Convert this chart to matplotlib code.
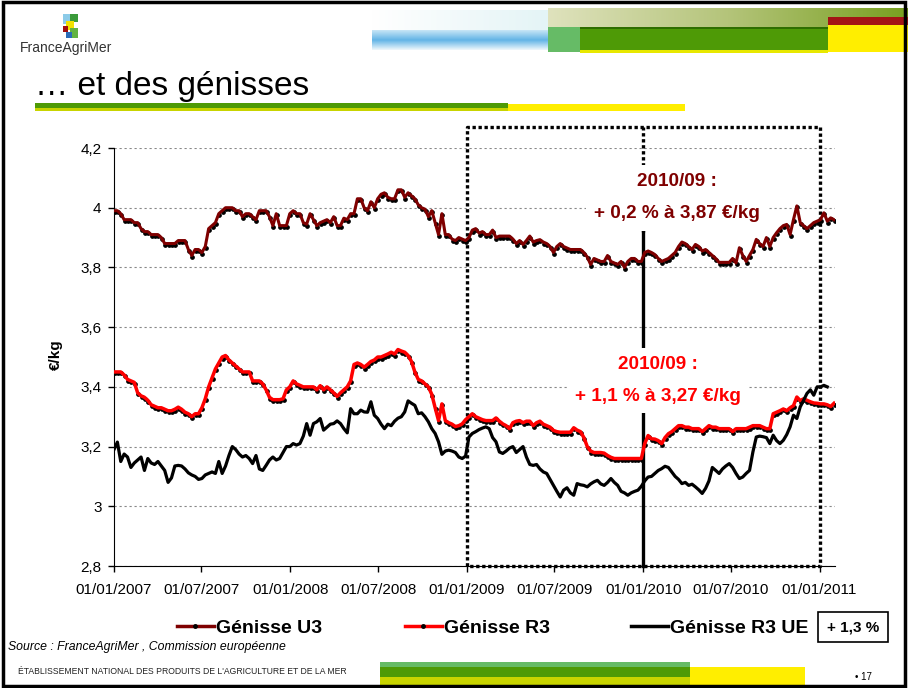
import matplotlib
matplotlib.use("Agg")
import matplotlib.pyplot as plt
import matplotlib.dates as mdates
import matplotlib.transforms as mtransforms
from matplotlib.patches import Rectangle
from matplotlib.lines import Line2D
from matplotlib.colors import LinearSegmentedColormap
from matplotlib.ticker import FuncFormatter
import numpy as np
import pandas as pd

plt.rcParams['font.family'] = ['Liberation Sans', 'DejaVu Sans']

# weekly prices, EUR/kg, starting 01/01/2007
genisse_u3 = [
    3.99, 3.99, 3.98, 3.96, 3.96, 3.96, 3.95, 3.95, 3.93, 3.92,
    3.92, 3.91, 3.91, 3.91, 3.90, 3.88, 3.88, 3.88, 3.88, 3.89,
    3.89, 3.89, 3.86, 3.84, 3.86, 3.86, 3.85, 3.87, 3.93, 3.94,
    3.95, 3.98, 3.99, 4.00, 4.00, 4.00, 3.99, 3.99, 3.97, 3.98,
    3.98, 3.97, 3.96, 3.99, 3.99, 3.99, 3.97, 3.94, 3.98, 3.94,
    3.94, 3.94, 3.98, 3.99, 3.98, 3.98, 3.95, 3.945, 3.98, 3.96,
    3.94, 3.95, 3.955, 3.96, 3.95, 3.97, 3.94, 3.94, 3.965, 3.96,
    3.98, 3.98, 4.03, 4.03, 4.00, 3.99, 4.02, 4.00, 4.03, 4.045,
    4.05, 4.035, 4.03, 4.03, 4.06, 4.06, 4.035, 4.05, 4.04, 4.03,
    4.01, 4.00, 3.995, 3.97, 3.99, 3.95, 3.91, 3.98, 3.91, 3.91,
    3.895, 3.89, 3.90, 3.895, 3.89, 3.90, 3.925, 3.93, 3.915, 3.92,
    3.91, 3.91, 3.925, 3.90, 3.905, 3.905, 3.905, 3.905, 3.895, 3.88,
    3.89, 3.877, 3.89, 3.905, 3.885, 3.89, 3.893, 3.885, 3.88, 3.87,
    3.85, 3.87, 3.88, 3.87, 3.865, 3.86, 3.86, 3.86, 3.86, 3.85,
    3.835, 3.81, 3.83, 3.825, 3.82, 3.82, 3.84, 3.82, 3.815, 3.81,
    3.82, 3.80, 3.82, 3.83, 3.83, 3.82, 3.82, 3.85, 3.855, 3.85,
    3.843, 3.83, 3.82, 3.825, 3.83, 3.84, 3.85, 3.87, 3.885, 3.88,
    3.87, 3.86, 3.877, 3.87, 3.855, 3.86, 3.85, 3.84, 3.83, 3.817,
    3.817, 3.817, 3.817, 3.83, 3.815, 3.866, 3.84, 3.82, 3.84, 3.86,
    3.894, 3.88, 3.87, 3.90, 3.87, 3.90, 3.916, 3.93, 3.94, 3.944,
    3.91, 3.96, 4.006, 3.95, 3.94, 3.93, 3.94, 3.95, 3.955, 3.96,
    3.983, 3.955, 3.966, 3.96,
]

genisse_r3 = [
    3.45, 3.45, 3.45, 3.44, 3.425, 3.42, 3.415, 3.38, 3.37, 3.365,
    3.355, 3.34, 3.335, 3.33, 3.33, 3.325, 3.32, 3.32, 3.325, 3.332,
    3.325, 3.315, 3.31, 3.30, 3.31, 3.31, 3.33, 3.36, 3.40, 3.43,
    3.46, 3.48, 3.50, 3.505, 3.49, 3.48, 3.47, 3.46, 3.45, 3.45,
    3.45, 3.42, 3.42, 3.42, 3.41, 3.39, 3.365, 3.357, 3.357, 3.357,
    3.36, 3.39, 3.40, 3.42, 3.41, 3.405, 3.40, 3.40, 3.40, 3.40,
    3.39, 3.404, 3.39, 3.40, 3.39, 3.38, 3.368, 3.38, 3.39, 3.40,
    3.42, 3.475, 3.48, 3.475, 3.466, 3.475, 3.485, 3.49, 3.50, 3.50,
    3.505, 3.51, 3.516, 3.51, 3.525, 3.52, 3.516, 3.505, 3.485, 3.45,
    3.425, 3.42, 3.41, 3.40, 3.375, 3.33, 3.287, 3.343, 3.287, 3.28,
    3.275, 3.267, 3.27, 3.276, 3.29, 3.30, 3.31, 3.30, 3.295, 3.29,
    3.287, 3.287, 3.287, 3.296, 3.285, 3.276, 3.27, 3.26, 3.28, 3.285,
    3.287, 3.28, 3.285, 3.285, 3.27, 3.28, 3.285, 3.275, 3.27, 3.265,
    3.254, 3.25, 3.248, 3.248, 3.248, 3.248, 3.263, 3.255, 3.25, 3.23,
    3.20, 3.185, 3.18, 3.18, 3.18, 3.178, 3.17, 3.164, 3.16, 3.16,
    3.16, 3.16, 3.16, 3.16, 3.16, 3.16, 3.16, 3.21, 3.237, 3.226,
    3.225, 3.22, 3.21, 3.23, 3.243, 3.25, 3.26, 3.27, 3.27, 3.265,
    3.265, 3.26, 3.26, 3.26, 3.25, 3.26, 3.27, 3.265, 3.265, 3.26,
    3.26, 3.26, 3.26, 3.25, 3.26, 3.26, 3.26, 3.26, 3.265, 3.27,
    3.27, 3.27, 3.265, 3.26, 3.26, 3.31, 3.315, 3.32, 3.326, 3.32,
    3.33, 3.337, 3.366, 3.354, 3.36, 3.355, 3.35, 3.346, 3.345, 3.343,
    3.343, 3.34, 3.334, 3.345,
]

genisse_r3_ue = [
    3.19, 3.215, 3.15, 3.175, 3.165, 3.13, 3.145, 3.155, 3.165, 3.12,
    3.16, 3.145, 3.14, 3.15, 3.135, 3.12, 3.08, 3.095, 3.135, 3.137,
    3.135, 3.125, 3.112, 3.105, 3.10, 3.09, 3.093, 3.105, 3.11, 3.115,
    3.11, 3.15, 3.11, 3.135, 3.17, 3.20, 3.19, 3.175, 3.165, 3.17,
    3.16, 3.143, 3.17, 3.125, 3.12, 3.137, 3.155, 3.165, 3.155, 3.16,
    3.18, 3.20, 3.20, 3.21, 3.205, 3.21, 3.235, 3.277, 3.238, 3.277,
    3.283, 3.294, 3.255, 3.265, 3.275, 3.277, 3.286, 3.277, 3.26, 3.246,
    3.327, 3.31, 3.31, 3.322, 3.316, 3.315, 3.35, 3.305, 3.294, 3.275,
    3.26, 3.275, 3.27, 3.285, 3.295, 3.30, 3.316, 3.353, 3.345, 3.338,
    3.31, 3.313, 3.30, 3.283, 3.26, 3.244, 3.216, 3.174, 3.185, 3.188,
    3.185, 3.18, 3.165, 3.16, 3.168, 3.232, 3.244, 3.25, 3.257, 3.262,
    3.266, 3.26, 3.23, 3.216, 3.182, 3.177, 3.185, 3.195, 3.20, 3.18,
    3.19, 3.20, 3.165, 3.14, 3.137, 3.14, 3.125, 3.115, 3.11, 3.09,
    3.07, 3.05, 3.031, 3.054, 3.062, 3.045, 3.037, 3.076, 3.072, 3.07,
    3.065, 3.075, 3.082, 3.087, 3.075, 3.07, 3.08, 3.093, 3.08, 3.07,
    3.05, 3.045, 3.037, 3.045, 3.05, 3.054, 3.067, 3.085, 3.098, 3.10,
    3.11, 3.12, 3.126, 3.134, 3.13, 3.115, 3.10, 3.09, 3.076, 3.08,
    3.07, 3.074, 3.065, 3.055, 3.043, 3.06, 3.085, 3.13, 3.12, 3.11,
    3.125, 3.135, 3.143, 3.13, 3.11, 3.093, 3.098, 3.11, 3.12, 3.182,
    3.232, 3.235, 3.233, 3.23, 3.21, 3.238, 3.22, 3.21, 3.221, 3.24,
    3.266, 3.305, 3.294, 3.333, 3.355, 3.378, 3.39, 3.372, 3.40, 3.40,
    3.405, 3.40,
]

tick_dates = pd.date_range('2007-01-01', '2011-01-01', freq='6MS')
y_ticks = [2.8, 3.0, 3.2, 3.4, 3.6, 3.8, 4.0, 4.2]

W, H = 908, 688
fig = plt.figure(figsize=(W / 100, H / 100), dpi=100)


def fpos(x, y):
    return x / W, 1 - y / H


def block(x0, y0, x1, y1, color):
    fig.patches.append(Rectangle(fpos(x0, y1), (x1 - x0) / W, (y1 - y0) / H,
                                 transform=fig.transFigure, color=color, lw=0))


def gradient(x0, y0, x1, y1, colors, horizontal=True):
    gax = fig.add_axes([x0 / W, 1 - y1 / H, (x1 - x0) / W, (y1 - y0) / H])
    gax.axis('off')
    cmap = LinearSegmentedColormap.from_list('g', colors)
    g = np.linspace(0, 1, 256)
    arr = g[None, :] if horizontal else g[:, None]
    gax.imshow(arr, aspect='auto', cmap=cmap, extent=(0, 1, 0, 1))


# slide decorations
gradient(372, 10, 548, 30, ['#ffffff', '#e4f4f6'])
gradient(372, 30, 548, 50, ['#c8e6f6', '#62b4e6', '#f0f8fc'], horizontal=False)
gradient(548, 8, 908, 27, ['#dfe2bd', '#b4c47a', '#78a020'])
block(548, 27, 580, 52, '#66bb66')
block(580, 27, 828, 50, '#4e9a06')
block(580, 27, 828, 29, '#2f6e00')
block(580, 50, 828, 53, '#e8e800')
block(828, 17, 908, 25, '#a31515')
block(828, 25, 908, 52, '#ffee00')

# logo
block(63, 14, 70, 24, '#8ccbe8')
block(70, 14, 78, 22, '#3a9a3a')
block(66, 21, 74, 30, '#f2e200')
block(63, 26, 68, 32, '#a01010')
block(70, 28, 78, 38, '#62b342')
block(66, 32, 72, 38, '#2a6cb8')
fig.text(*fpos(20, 48), 'FranceAgriMer', fontsize=10, color='#333333', va='center')

fig.text(*fpos(35, 95), '\u2026 et des génisses', fontsize=24, va='baseline')
block(35, 103, 508, 108, '#4e9a06')
block(35, 108, 508, 111, '#c8d400')
block(508, 104, 685, 111, '#ffee00')

# footer
block(380, 662, 690, 667, '#66bb66')
block(380, 667, 690, 677, '#4e9a06')
block(380, 677, 690, 687, '#c8d400')
block(690, 667, 805, 687, '#ffee00')
fig.text(*fpos(18, 671), "ÉTABLISSEMENT NATIONAL DES PRODUITS DE L'AGRICULTURE ET DE LA MER",
         fontsize=6.2, va='center', color='#222222')
fig.text(*fpos(855, 677), '\u2022 17', fontsize=7, va='center')
fig.text(*fpos(8, 647), 'Source : FranceAgriMer , Commission européenne',
         fontsize=8.8, style='italic', va='center')

fig.patches.append(Rectangle((0.003, 0.003), 0.994, 0.994, transform=fig.transFigure,
                             fill=False, edgecolor='black', lw=2.5))

# chart
ax = fig.add_axes([114 / W, 1 - 566 / H, (835 - 114) / W, (566 - 148) / H])
dates = pd.date_range('2007-01-01', periods=len(genisse_u3), freq='7D')
dates_ue = dates[:len(genisse_r3_ue)]

shadow = mtransforms.offset_copy(ax.transData, fig=fig, x=0.5, y=-1.5, units='dots')
ax.plot(dates, genisse_u3, ls='none', marker='o', ms=2.4, color='black',
        transform=shadow, zorder=3)
ax.plot(dates, genisse_u3, color='#7f0000', lw=2.2, zorder=4)
ax.plot(dates, genisse_r3, ls='none', marker='o', ms=2.4, color='black',
        transform=shadow, zorder=3)
ax.plot(dates, genisse_r3, color='#ff0000', lw=2.5, zorder=4)
ax.plot(dates_ue, genisse_r3_ue, color='black', lw=2.3, zorder=4)

ax.set_xlim(pd.Timestamp('2007-01-01'), pd.Timestamp('2011-02-02'))
ax.set_ylim(2.8, 4.2)
ax.set_xticks(tick_dates)
ax.xaxis.set_major_formatter(mdates.DateFormatter('%d/%m/%Y'))
ax.set_yticks(y_ticks)
ax.yaxis.set_major_formatter(FuncFormatter(lambda v, p: f'{round(v, 1):g}'.replace('.', ',')))
ax.tick_params(axis='both', labelsize=11, length=4, width=1, direction='out')
ax.tick_params(axis='x', pad=8)
ax.tick_params(axis='y', pad=5)
for s in ['top', 'right']:
    ax.spines[s].set_visible(False)
ax.yaxis.grid(True, linestyle=(0, (2, 2.5)), color='#888888', lw=0.8, zorder=1)
ax.set_axisbelow(True)

fig.text(*fpos(56, 355), '€/kg', rotation=90, fontsize=11, fontweight='bold',
         va='center', ha='center')

# dotted frames around 2009-2010 and 2010-2011
trans = mtransforms.blended_transform_factory(ax.transData, ax.transAxes)
x09, x10, x11 = [mdates.date2num(pd.Timestamp(d)) for d in ['2009-01-01', '2010-01-01', '2011-01-01']]
dot = (0, (1, 0.8))
ax.plot([x09, x09, x11, x11, x09], [0, 1.05, 1.05, 0, 0], transform=trans, clip_on=False,
        color='black', lw=2.4, ls=dot, zorder=2)
ax.plot([x10, x10], [0.80, 1.05], transform=trans, clip_on=False,
        color='black', lw=2.4, ls=dot, zorder=2)
ax.plot([x10, x10], [0, 0.80], transform=trans, clip_on=False,
        color='black', lw=2.4, zorder=2)

box = dict(facecolor='white', edgecolor='none', pad=6)
ax.text(pd.Timestamp('2010-03-12'), 4.033, '2010/09 :\n+ 0,2 % à 3,87 €/kg', color='#7f0000',
        fontsize=13.6, fontweight='bold', ha='center', va='center', linespacing=2.15,
        bbox=box, zorder=5)
ax.text(pd.Timestamp('2010-02-01'), 3.421, '2010/09 :\n+ 1,1 % à 3,27 €/kg', color='#ff0000',
        fontsize=13.6, fontweight='bold', ha='center', va='center', linespacing=2.15,
        bbox=box, zorder=5)

# legend
handles = [
    Line2D([], [], color='#7f0000', lw=2.5, marker='o', ms=2.5, mfc='black', mec='black'),
    Line2D([], [], color='#ff0000', lw=2.5, marker='o', ms=2.5, mfc='black', mec='black'),
    Line2D([], [], color='black', lw=2.5),
]
labels = ['Génisse U3', 'Génisse R3', 'Génisse R3 UE']
starts = [177, 405, 631]
for h, lab, x0 in zip(handles, labels, starts):
    fig.legend([h], [lab], loc='center left', bbox_to_anchor=fpos(x0, 628), frameon=False,
               borderpad=0, borderaxespad=0, handlelength=1.9, handletextpad=0.12,
               numpoints=1, prop={'weight': 'bold', 'size': 14})

fig.text(*fpos(853, 627), '+ 1,3 %', fontsize=11, fontweight='bold', ha='center', va='center',
         bbox=dict(boxstyle='square,pad=0.55', facecolor='white', edgecolor='black', lw=1.2))

fig.savefig('out.png', dpi=100)
